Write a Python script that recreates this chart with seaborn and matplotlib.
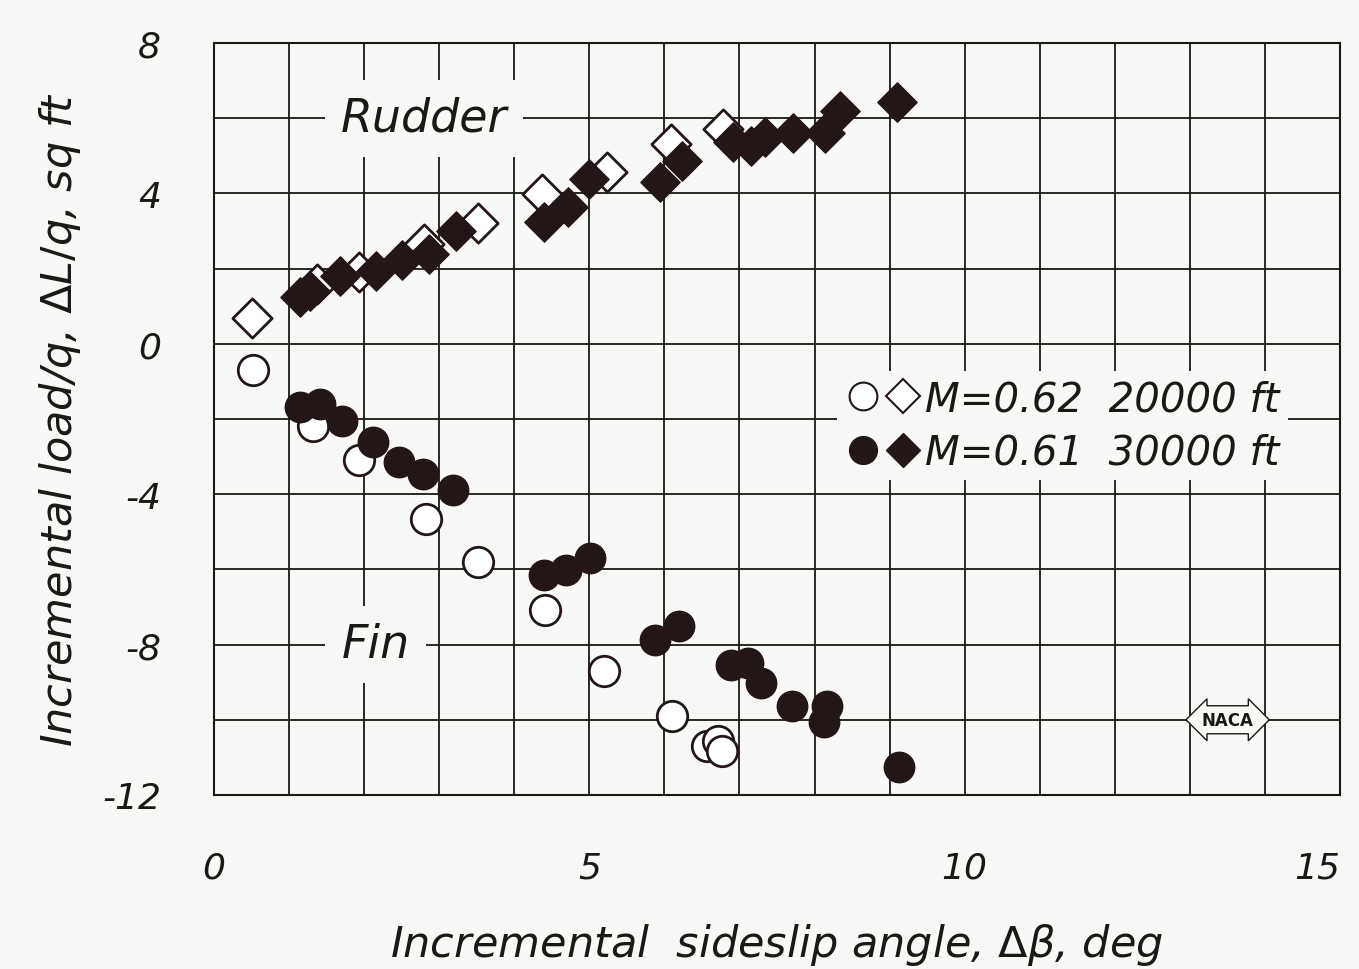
import matplotlib
matplotlib.use('Agg')
import matplotlib.pyplot as plt
import seaborn as sns
import pandas as pd
from matplotlib.legend_handler import HandlerTuple
from matplotlib.lines import Line2D

# Rudder, M=0.62 20000 ft (open diamonds)
rudder_open_x = [0.51, 1.37, 1.93, 2.80, 3.51, 4.37, 5.24, 6.09, 6.78]
rudder_open_y = [0.68, 1.59, 1.90, 2.65, 3.21, 3.98, 4.56, 5.31, 5.71]
# Rudder, M=0.61 30000 ft (filled diamonds)
rudder_fill_x = [1.15, 1.28, 1.68, 2.16, 2.51, 2.86, 3.23, 4.40, 4.71, 5.00, 5.94, 6.24,
                 6.91, 7.16, 7.34, 7.71, 8.14, 8.34, 9.10]
rudder_fill_y = [1.25, 1.40, 1.80, 1.94, 2.23, 2.39, 3.01, 3.23, 3.63, 4.38, 4.30, 4.87,
                 5.36, 5.27, 5.49, 5.62, 5.62, 6.20, 6.42]
# Fin, M=0.62 20000 ft (open circles)
fin_open_x = [0.52, 1.32, 1.93, 2.82, 3.52, 4.41, 5.20, 6.10, 6.57, 6.71, 6.77]
fin_open_y = [-0.70, -2.19, -3.08, -4.66, -5.81, -7.07, -8.69, -9.91, -10.69, -10.56, -10.82]
# Fin, M=0.61 30000 ft (filled circles)
fin_fill_x = [1.14, 1.41, 1.70, 2.12, 2.46, 2.79, 3.19, 4.39, 4.69, 5.01, 5.87, 6.19,
              6.89, 7.11, 7.29, 7.70, 8.17, 8.12, 9.13]
fin_fill_y = [-1.69, -1.60, -2.05, -2.60, -3.15, -3.46, -3.88, -6.15, -6.01, -5.71, -7.87, -7.51,
              -8.53, -8.49, -9.02, -9.62, -9.62, -10.07, -11.26]

x_ticks = [0, 5, 10, 15]
y_ticks = [8, 4, 0, -4, -8, -12]

ink = '#241517'
line_col = '#1a1a14'
paper = '#f8f8f6'

sns.set_theme(style='white')
plt.rcParams['font.family'] = ['DejaVu Sans']

fig = plt.figure(figsize=(13.59, 9.70), dpi=100)
fig.patch.set_facecolor(paper)
ax = fig.add_axes([0.1575, 0.1794, 0.8285, 0.7752])
ax.set_facecolor(paper)

rud_o = pd.DataFrame({'x': rudder_open_x, 'y': rudder_open_y})
rud_f = pd.DataFrame({'x': rudder_fill_x, 'y': rudder_fill_y})
fin_o = pd.DataFrame({'x': fin_open_x, 'y': fin_open_y})
fin_f = pd.DataFrame({'x': fin_fill_x, 'y': fin_fill_y})

sns.scatterplot(data=rud_o, x='x', y='y', marker='D', s=400, facecolor='white',
                edgecolor=ink, linewidth=2, ax=ax, zorder=3)
sns.scatterplot(data=rud_f, x='x', y='y', marker='D', s=400, color=ink,
                edgecolor=ink, linewidth=1, ax=ax, zorder=4)
sns.scatterplot(data=fin_o, x='x', y='y', marker='o', s=480, facecolor='white',
                edgecolor=ink, linewidth=2, ax=ax, zorder=3)
sns.scatterplot(data=fin_f, x='x', y='y', marker='o', s=480, color=ink,
                edgecolor=ink, linewidth=1, ax=ax, zorder=4)

ax.set_xlim(0, 15)
ax.set_ylim(-12, 8)
ax.set_xticks(range(0, 16))
ax.set_yticks(range(-12, 9, 2))
ax.set_xticklabels([str(v) if v in x_ticks else '' for v in range(0, 16)])
ax.set_yticklabels([str(v) if v in y_ticks else '' for v in range(-12, 9, 2)])
ax.grid(True, color=line_col, linewidth=1.3)
ax.set_axisbelow(True)
for sp in ax.spines.values():
    sp.set_color(line_col)
    sp.set_linewidth(1.5)
ax.tick_params(axis='x', length=0, pad=40, labelsize=26, colors=line_col)
ax.tick_params(axis='y', length=0, pad=38, labelsize=26, colors=line_col)
for lab in ax.get_xticklabels() + ax.get_yticklabels():
    lab.set_fontstyle('italic')
# keep the "15" inside the figure edge
ax.get_xticklabels()[-1].set_horizontalalignment('right')

ax.set_xlabel('Incremental  sideslip angle, $\\Delta\\beta$, deg', fontsize=31,
              fontstyle='italic', labelpad=26, color=line_col)
ax.set_ylabel('Incremental load/q, $\\Delta L/q$, sq ft', fontsize=31,
              fontstyle='italic', labelpad=14, color=line_col)

bbox = dict(boxstyle='square,pad=0.35', facecolor=paper, edgecolor='none')
ax.text(2.8, 6.0, 'Rudder', fontsize=33, fontstyle='italic', ha='center', va='center',
        color=line_col, bbox=bbox, zorder=5)
ax.text(2.15, -8.0, 'Fin', fontsize=33, fontstyle='italic', ha='center', va='center',
        color=line_col, bbox=bbox, zorder=5)

h_oc = Line2D([], [], marker='o', ls='none', ms=20, mfc='white', mec=ink, mew=1.5)
h_od = Line2D([], [], marker='D', ls='none', ms=17, mfc='white', mec=ink, mew=1.5)
h_fc = Line2D([], [], marker='o', ls='none', ms=20, mfc=ink, mec=ink)
h_fd = Line2D([], [], marker='D', ls='none', ms=17, mfc=ink, mec=ink)
leg = ax.legend([(h_oc, h_od), (h_fc, h_fd)],
                ['M=0.62  20000 ft', 'M=0.61  30000 ft'],
                handler_map={tuple: HandlerTuple(ndivide=None, pad=0.05)},
                loc='upper left', bbox_to_anchor=(0.535, 0.59), fontsize=29,
                handlelength=1.9, handletextpad=0.1, labelspacing=0.35,
                frameon=True, facecolor=paper, edgecolor='none', framealpha=1,
                borderpad=0.2)
for t in leg.get_texts():
    t.set_fontstyle('italic')
    t.set_color(line_col)
leg.set_zorder(6)

ax.text(13.5, -10.0, 'NACA', fontsize=12, fontweight='bold', ha='center', va='center',
        color=line_col, zorder=6,
        bbox=dict(boxstyle='darrow,pad=0.3', facecolor=paper, edgecolor=line_col, linewidth=1))

fig.savefig('out.png', dpi=100, facecolor=paper)
